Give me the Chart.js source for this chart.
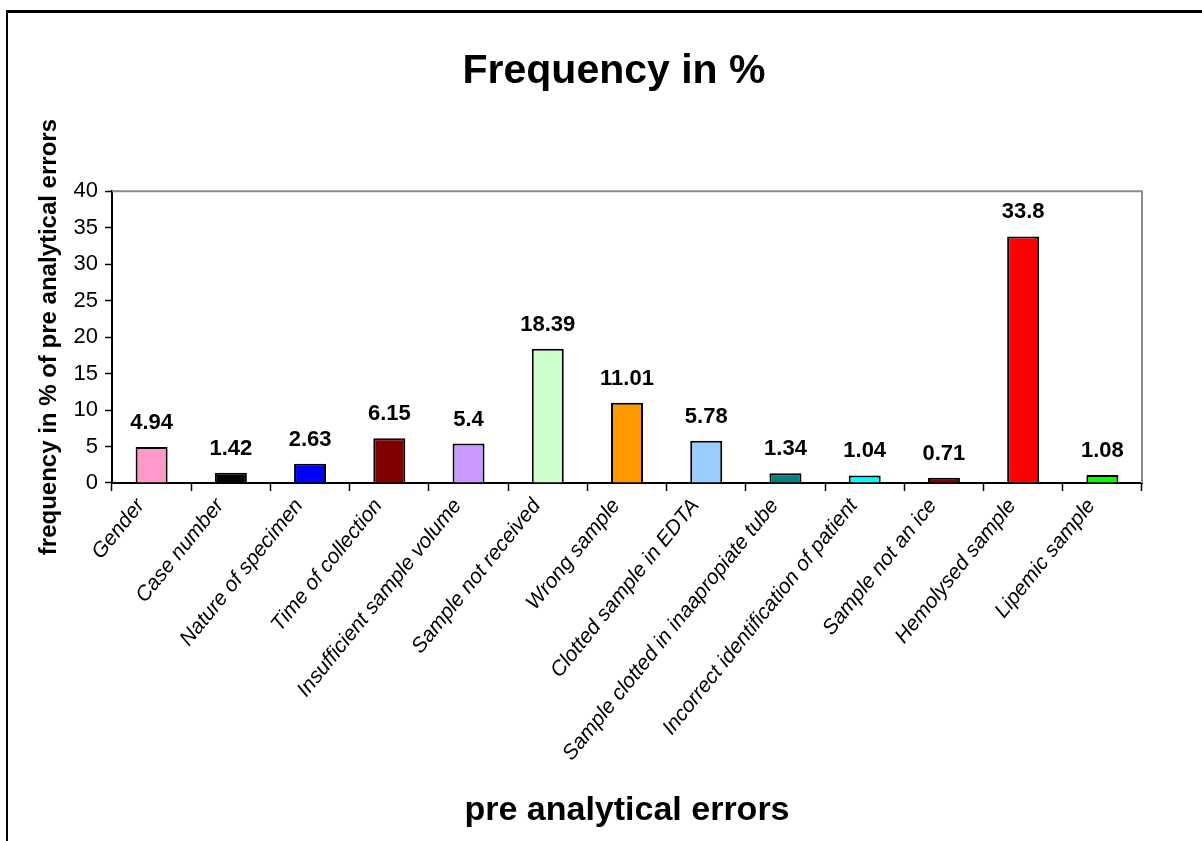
<!DOCTYPE html>
<html><head><meta charset="utf-8">
<script src="https://cdn.jsdelivr.net/npm/chart.js@4"></script>
<style>
html,body{margin:0;padding:0;background:#fff;overflow:hidden;width:1202px;height:841px;}
#frame{position:absolute;left:6px;top:10px;width:1300px;height:1000px;border-left:2px solid #000;border-top:3px solid #000;box-sizing:border-box;}
#wrap{position:absolute;left:0;top:0;width:1202px;height:841px;}
</style></head><body>
<div id="frame"></div>
<div id="wrap"><canvas id="c" width="1202" height="841"></canvas></div>
<script>
const categories = ["Gender","Case number","Nature of specimen","Time of collection","Insufficient sample volume","Sample not received","Wrong sample","Clotted sample in EDTA","Sample clotted in inaapropiate tube","Incorrect identification of patient","Sample not an ice","Hemolysed sample","Lipemic sample"];
const values = [4.94,1.42,2.63,6.15,5.4,18.39,11.01,5.78,1.34,1.04,0.71,33.8,1.08];
const barColors = ["#FF99CC","#000000","#0000FF","#800000","#CC99FF","#CCFFCC","#FF9900","#99CCFF","#008080","#00FFFF","#800000","#FF0000","#00FF00"];
const chartTitle = "Frequency in %";
const xTitle = "pre analytical errors";
const yTitle = "frequency in % of pre analytical errors";
const yMin = 0, yMax = 40, yStep = 5;

const SANS = "'Liberation Sans',Arial,Helvetica,sans-serif";

const valueLabels = {
  id: 'valueLabels',
  afterDatasetsDraw(chart) {
    const ctx = chart.ctx;
    const meta = chart.getDatasetMeta(0);
    ctx.save();
    ctx.font = "bold 22px " + SANS;
    ctx.fillStyle = "#000";
    ctx.textAlign = "center";
    ctx.textBaseline = "alphabetic";
    meta.data.forEach((el, i) => {
      ctx.fillText(String(chart.data.datasets[0].data[i]), el.x, el.y - 18);
    });
    ctx.restore();
  }
};
const plotFrame = {
  id: 'plotFrame',
  afterDraw(chart) {
    const {ctx, chartArea: a} = chart;
    ctx.save();
    ctx.strokeStyle = "#8c8c8c";
    ctx.lineWidth = 2;
    ctx.beginPath();
    ctx.moveTo(a.left, a.top);
    ctx.lineTo(a.right, a.top);
    ctx.lineTo(a.right, a.bottom);
    ctx.stroke();
    ctx.restore();
  }
};

new Chart(document.getElementById('c'), {
  type: 'bar',
  data: {
    labels: categories,
    datasets: [{
      data: values,
      backgroundColor: barColors,
      borderColor: "#000",
      borderWidth: 2,
      barPercentage: 0.404,
      categoryPercentage: 1
    }]
  },
  options: {
    responsive: false,
    animation: false,
    layout: { padding: { left: 35, right: 9, top: 0, bottom: 0 } },
    plugins: {
      legend: { display: false },
      tooltip: { enabled: false },
      title: {
        display: true, text: chartTitle, color: "#000",
        font: { family: SANS, size: 41, weight: 'bold' },
        padding: { top: 47, bottom: 95 }
      }
    },
    scales: {
      x: {
        offset: true,
        grid: { offset: true, drawOnChartArea: false, tickLength: 8, tickColor: "#000", tickWidth: 1.5 },
        border: { color: "#000", width: 2 },
        ticks: { color: "#000", font: { family: SANS, size: 21, style: 'italic' }, minRotation: 51, maxRotation: 51, autoSkip: false, padding: 3, labelOffset: -11 },
        title: { display: true, text: xTitle, color: "#000", font: { family: SANS, size: 34, weight: 'bold' }, padding: { top: 0, bottom: 10 } },
        afterFit(s) { s.height = 358; }
      },
      y: {
        min: yMin, max: yMax,
        grid: { drawOnChartArea: false, tickLength: 7, tickColor: "#000", tickWidth: 1.5 },
        border: { color: "#000", width: 2 },
        ticks: { stepSize: yStep, color: "#000", font: { family: SANS, size: 22 }, padding: 7 },
        title: { display: true, text: yTitle, color: "#000", font: { family: SANS, size: 24, weight: 'bold' }, padding: { top: 0, bottom: 0 } },
        afterFit(s) { s.width = 77; }
      },
      yRight: {
        type: 'linear', position: 'right', min: yMin, max: yMax,
        grid: { display: false }, border: { display: false },
        ticks: { display: false },
        afterFit(s) { s.width = 51; }
      }
    }
  },
  plugins: [valueLabels, plotFrame]
});
</script>
</body></html>
